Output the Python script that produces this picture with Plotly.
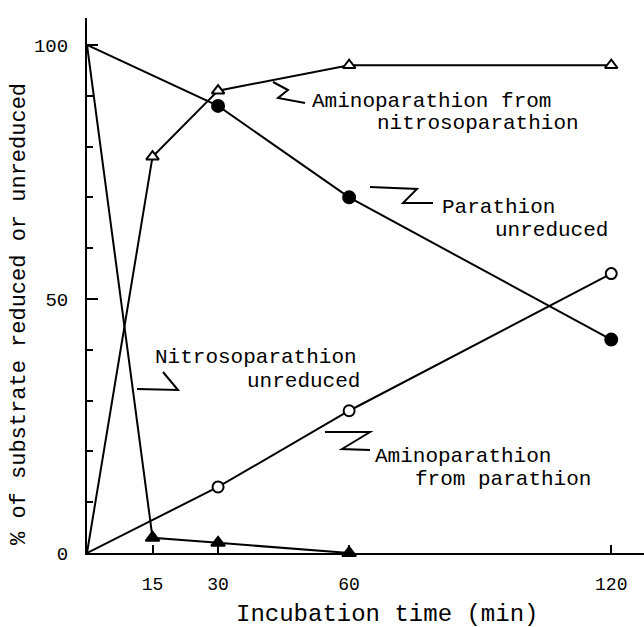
import plotly.graph_objects as go

# ---- data ----
time_parathion = [0, 30, 60, 120]
parathion_unreduced = [100, 88, 70, 42]
amino_from_parathion = [0, 13, 28, 55]

time_nitroso = [0, 15, 30, 60, 120]
amino_from_nitroso = [0, 78, 91, 96, 96]

time_nitroso_unred = [0, 15, 30, 60]
nitroso_unreduced = [100, 3, 2, 0]

x_ticks = [15, 30, 60, 120]
y_ticks = [0, 50, 100]

# ---- layout geometry (pixels) ----
W, H = 644, 627
L, R, T, B = 87, 0, 18, 74
XMAX, YMAX = 127.5, 105.3
PW, PH = W - L - R, H - T - B

def dx(px):
    return (px - L) / PW * XMAX

def dy(py):
    return (H - B - py) / PH * YMAX

FONT = "Liberation Mono"
BLACK = "black"

fig = go.Figure()

def series(x, y, symbol, filled, size):
    sizes = [0 if xi == 0 else size for xi in x]
    fig.add_trace(go.Scatter(
        x=x, y=y, mode="lines+markers",
        line=dict(color=BLACK, width=2),
        marker=dict(symbol=symbol, size=sizes, opacity=1,
                    color="#000000" if filled else "#ffffff",
                    line=dict(color="#000000", width=2)),
        showlegend=False, cliponaxis=False))

series(time_parathion, parathion_unreduced, "circle", True, 12)
series(time_parathion, amino_from_parathion, "circle", False, 11)
series(time_nitroso, amino_from_nitroso, "triangle-up", False, 11)
series(time_nitroso_unred, nitroso_unreduced, "triangle-up", True, 12)

# ---- leader zigzags ----
zigzags = [
    [(273, 82), (288, 90), (278, 98), (305, 103)],
    [(370, 187), (417, 189), (403, 203), (433, 203)],
    [(163, 372), (178, 390), (137, 389)],
    [(325, 432), (370, 432), (342, 449), (370, 450)],
]
shapes = []
for pts in zigzags:
    path = "M " + " L ".join(f"{dx(px):.3f},{dy(py):.3f}" for px, py in pts)
    shapes.append(dict(type="path", path=path, xref="x", yref="y",
                       line=dict(color=BLACK, width=2)))

# ---- labels ----
labels = [
    ("Aminoparathion from", 310, 101),
    ("nitrosoparathion", 375, 123),
    ("Parathion", 440, 207),
    ("unreduced", 493, 230),
    ("Nitrosoparathion", 153, 357),
    ("unreduced", 245, 381),
    ("Aminoparathion", 373, 456),
    ("from parathion", 413, 479),
]
annotations = []
for text, px, py in labels:
    annotations.append(dict(text=text, x=dx(px), y=dy(py), xref="x", yref="y",
                            xanchor="left", yanchor="middle", showarrow=False,
                            font=dict(family=FONT, size=21, color=BLACK)))

annotations.append(dict(text="Incubation time (min)", x=(387 - L) / PW, y=(H - B - 614) / PH,
                        xref="paper", yref="paper", xanchor="center", yanchor="middle",
                        showarrow=False, font=dict(family=FONT, size=24, color=BLACK)))
annotations.append(dict(text="% of substrate reduced or unreduced", x=(19 - L) / PW,
                        y=(H - B - 314) / PH, xref="paper", yref="paper",
                        xanchor="center", yanchor="middle", textangle=-90,
                        showarrow=False, font=dict(family=FONT, size=22, color=BLACK)))

fig.update_layout(
    width=W, height=H,
    margin=dict(l=L, r=R, t=T, b=B, pad=0),
    paper_bgcolor="white", plot_bgcolor="white",
    shapes=shapes, annotations=annotations,
    font=dict(family=FONT, color=BLACK),
    xaxis=dict(range=[0, XMAX], tickvals=x_ticks, ticktext=[str(v) for v in x_ticks],
               ticks="inside", ticklen=8, tickwidth=2, tickcolor=BLACK,
               showline=True, linecolor=BLACK, linewidth=2, showgrid=False, zeroline=False,
               tickfont=dict(family=FONT, size=18, color=BLACK), ticklabelstandoff=13),
    yaxis=dict(range=[0, YMAX], tickvals=y_ticks, ticktext=[str(v) for v in y_ticks],
               ticks="inside", ticklen=11, tickwidth=2, tickcolor=BLACK,
               minor=dict(dtick=10, tick0=0, ticks="inside", ticklen=6, tickwidth=2, tickcolor=BLACK),
               showline=True, linecolor=BLACK, linewidth=2, showgrid=False, zeroline=False,
               tickfont=dict(family=FONT, size=19, color=BLACK), ticklabelstandoff=13),
)

fig.write_html("out.html")
